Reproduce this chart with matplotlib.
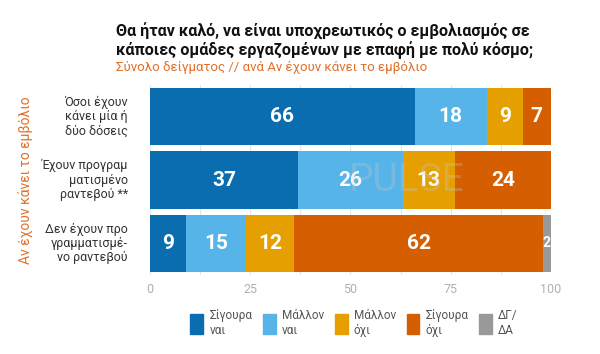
import numpy as np
import matplotlib.pyplot as plt
from matplotlib.patches import Patch

plt.rcParams['font.family'] = ['Roboto', 'DejaVu Sans']

groups = ['Όσοι έχουν\nκάνει μία ή\nδύο δόσεις',
          'Έχουν προγραμ\nματισμένο\nραντεβού **',
          'Δεν έχουν προ\nγραμματισμέ-\nνο ραντεβού']
answers = ['Σίγουρα\nναι', 'Μάλλον\nναι', 'Μάλλον\nόχι', 'Σίγουρα\nόχι', 'ΔΓ/\nΔΑ']
sure_yes = [66, 37, 9]
rather_yes = [18, 26, 15]
rather_no = [9, 13, 12]
sure_no = [7, 24, 62]
dk = [0, 0, 2]
colors = ['#0a6db0', '#56b4e9', '#e69f00', '#d55e00', '#999999']

fig = plt.figure(figsize=(6, 3.54), dpi=100)
ax = fig.add_axes([0.25, 0.223, 0.668, 0.537])

y = np.arange(len(groups))
left = np.zeros(len(groups))
for vals, c in zip([sure_yes, rather_yes, rather_no, sure_no, dk], colors):
    vals = np.array(vals)
    ax.barh(y, vals, left=left, height=0.9, color=c, zorder=2)
    for i, v in enumerate(vals):
        if v == 0:
            continue
        fs = 15 if v >= 5 else 10
        ax.text(left[i] + v / 2, y[i], str(v), ha='center', va='center',
                color='white', fontsize=fs, fontweight='bold', zorder=3)
    left += vals

ax.set_xlim(0, 100)
ax.set_ylim(2.5, -0.5)
ax.set_xticks([0, 25, 50, 75, 100])
ax.set_xticks(np.arange(0, 101, 12.5), minor=True)
ax.grid(axis='x', which='both', color='#e6e6e6', lw=0.8, zorder=0)
ax.tick_params(axis='x', which='both', length=0, colors='#b0b0b0', labelsize=9, pad=6)
ax.set_yticks([])
for s in ax.spines.values():
    s.set_visible(False)

# category labels, right-aligned left of the bars
for i, g in enumerate(groups):
    ax.text(-5.5, y[i], g, ha='right', va='center', fontsize=9, color='#333333',
            linespacing=1.1)

# faint watermark
ax.text(0.64, 0.5, 'PULSE', transform=ax.transAxes, ha='center', va='center',
        fontsize=28, color='#c8c8c8', alpha=0.3, zorder=4)

fig.text(0.043, 0.49, 'Αν έχουν κάνει το εμβόλιο', rotation=90, ha='center',
         va='center', fontsize=10, color='#e0702a')

fig.text(0.193, 0.935, 'Θα ήταν καλό, να είναι υποχρεωτικός ο εμβολιασμός σε\n'
         'κάποιες ομάδες εργαζομένων με επαφή με πολύ κόσμο;',
         ha='left', va='top', fontsize=11.5, fontweight='bold', color='#111111',
         linespacing=1.05)
fig.text(0.193, 0.828, 'Σύνολο δείγματος // ανά Αν έχουν κάνει το εμβόλιο',
         ha='left', va='top', fontsize=9.5, color='#e0702a')

handles = [Patch(color=c) for c in colors]
fig.legend(handles, answers, loc='center', bbox_to_anchor=(0.59, 0.088), ncol=5,
           frameon=False, fontsize=8.5, labelcolor='#555555', handlelength=1.1,
           handleheight=2.3, columnspacing=0.9, handletextpad=0.5)

fig.savefig('out.png', dpi=100, facecolor='white')
